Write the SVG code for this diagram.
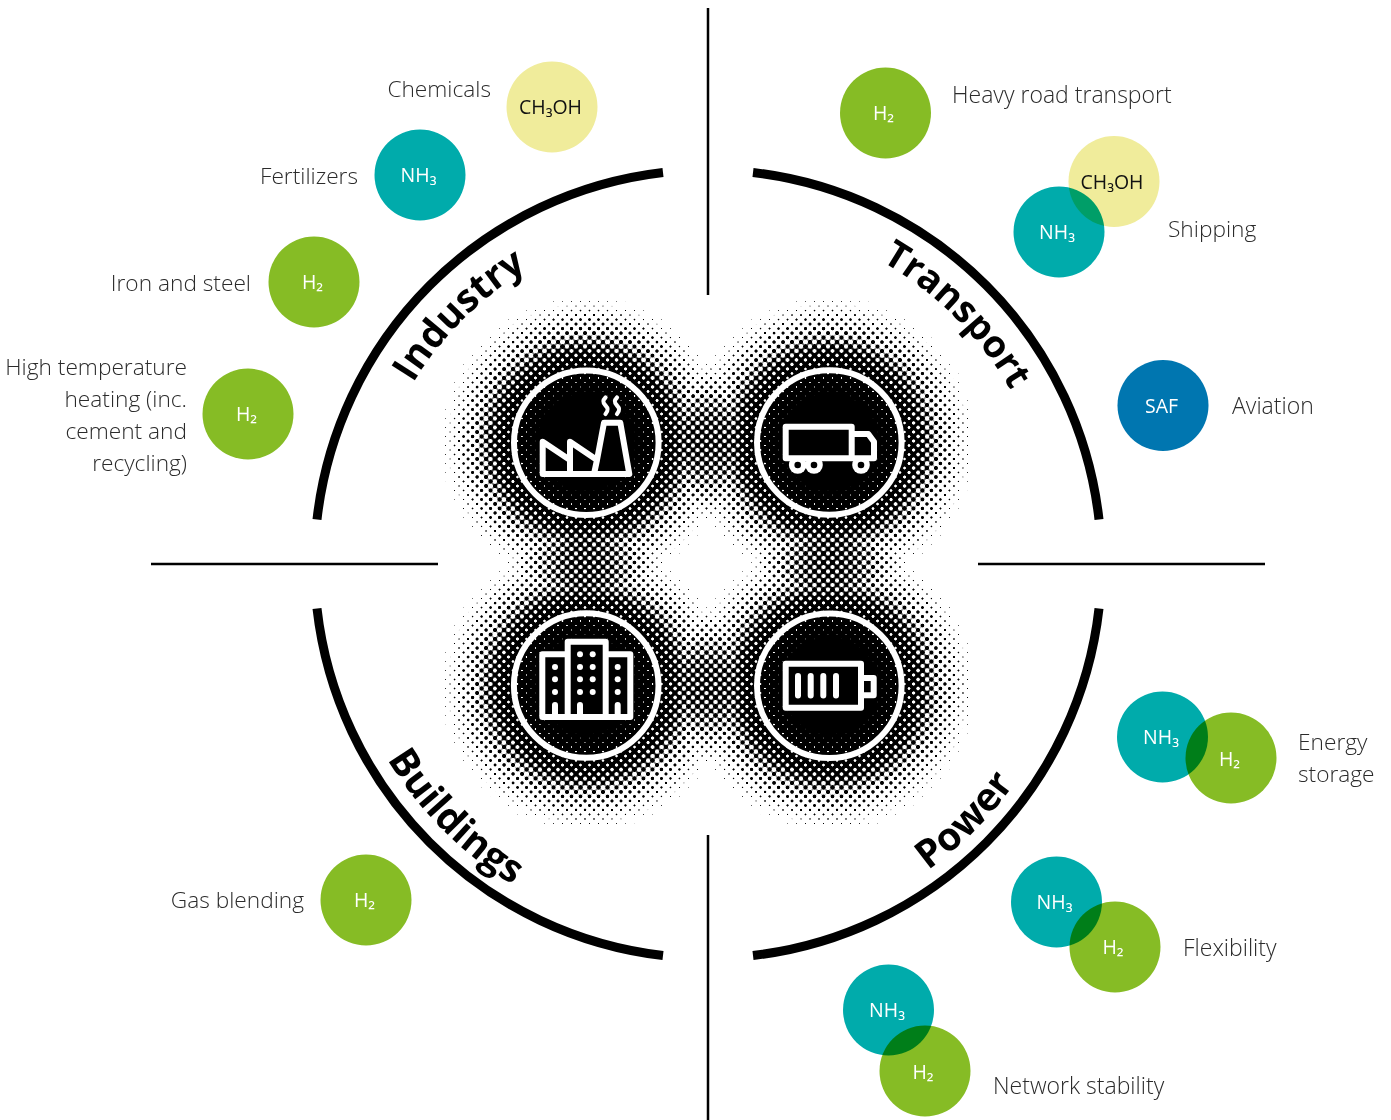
<svg xmlns="http://www.w3.org/2000/svg" width="1391" height="1120" viewBox="0 0 1391 1120">
<style>
text{font-family:"Open Sans","Liberation Sans",sans-serif}
.t{font-size:22.7px;font-weight:300;fill:#2b2b2b}
.l{font-size:23px}
.e{text-anchor:end}
.c{font-size:19.5px;font-weight:400;text-anchor:middle;fill:#fff}
.k{fill:#111}
.h{font-size:39px;font-weight:700;fill:#000;text-anchor:middle}
.g{fill:#86bc25}.n{fill:#00abab;mix-blend-mode:multiply}.y{fill:#f0ec9b}.b{fill:#0076b0}
.ring{fill:none;stroke:#fff;stroke-width:6}
.ic{fill:none;stroke:#fff;stroke-width:6;stroke-linejoin:round;stroke-linecap:round}
.w{fill:#fff}
.arc{fill:none;stroke:#000;stroke-width:9}
.ln{stroke:#000;stroke-width:2.5;fill:none}
</style>
<defs>
<radialGradient id="cell">
<stop offset="0" stop-color="#000" stop-opacity=".9"/><stop offset="1" stop-color="#000" stop-opacity="0"/>
</radialGradient>
<pattern id="dots" width="9" height="9" patternUnits="userSpaceOnUse">
<rect width="9" height="9" fill="#fff"/>
<circle cx="4.500" cy="4.500" r="4.500" fill="url(#cell)"/>
<circle cx="0" cy="0" r="4.500" fill="url(#cell)"/>
<circle cx="9" cy="0" r="4.500" fill="url(#cell)"/>
<circle cx="0" cy="9" r="4.500" fill="url(#cell)"/>
<circle cx="9" cy="9" r="4.500" fill="url(#cell)"/>
</pattern>
<radialGradient id="blob">
<stop offset="0" stop-color="#000" stop-opacity="1"/>
<stop offset=".27" stop-color="#000" stop-opacity="1"/>
<stop offset=".34" stop-color="#000" stop-opacity=".94"/>
<stop offset=".41" stop-color="#000" stop-opacity=".86"/>
<stop offset=".5" stop-color="#000" stop-opacity=".74"/>
<stop offset=".67" stop-color="#000" stop-opacity=".56"/>
<stop offset=".83" stop-color="#000" stop-opacity=".37"/>
<stop offset=".93" stop-color="#000" stop-opacity=".21"/>
<stop offset="1" stop-color="#000" stop-opacity=".06"/>
</radialGradient>
<filter id="thresh" filterUnits="userSpaceOnUse" x="436" y="290" width="546" height="550" color-interpolation-filters="sRGB">
<feComponentTransfer>
<feFuncR type="linear" slope="14" intercept="-6.6"/>
<feFuncG type="linear" slope="14" intercept="-6.6"/>
<feFuncB type="linear" slope="14" intercept="-6.6"/>
</feComponentTransfer>
</filter>
<path id="pI" d="M362 564A346 346 0 0 1 708 218"/>
<path id="pT" d="M708 215A349 349 0 0 1 1057 564"/>
<path id="pB" d="M332.500 564A375.500 375.500 0 0 0 708 939.500"/>
<path id="pP" d="M708 941A377 377 0 0 0 1085 564"/>
</defs>
<rect width="1391" height="1120" fill="#fff"/>
<g id="halftone" filter="url(#thresh)">
<rect x="436" y="290" width="546" height="550" fill="url(#dots)"/>
<g opacity=".5">
<rect x="436" y="290" width="546" height="550" fill="#fff"/>
<circle cx="586" cy="442" r="146" fill="url(#blob)"/>
<circle cx="830" cy="442" r="146" fill="url(#blob)"/>
<circle cx="586" cy="686" r="146" fill="url(#blob)"/>
<circle cx="830" cy="686" r="146" fill="url(#blob)"/>
</g>
</g>
<g id="connectors">
<path class="ln" d="M708 8V295M708 835V1120M151 564H438M978 564H1265"/>
<path class="arc" d="M317 519.5A394 394 0 0 1 663 172.5"/>
<path class="arc" d="M753 172.5A394 394 0 0 1 1099 519.5"/>
<path class="arc" d="M317 608.5A394 394 0 0 0 663 955.5"/>
<path class="arc" d="M753 955.5A394 394 0 0 0 1099 608.5"/>
</g>
<g id="sector-labels">
<text class="h" style="font-size:38.5px"><textPath href="#pI" startOffset="50%">Industry</textPath></text>
<text class="h" style="font-size:37.5px"><textPath href="#pT" startOffset="50%">Transport</textPath></text>
<text class="h"><textPath href="#pB" startOffset="50%">Buildings</textPath></text>
<text class="h"><textPath href="#pP" startOffset="50%">Power</textPath></text>
</g>
<g id="icon-industry">
<circle class="ring" cx="586.3" cy="442.7" r="72.300"/>
<path class="ic" d="M542.7 474V441.7L570 460V441.7L597 460L604 422.7H620.3L629.3 474ZM570 460V474M597 460L594 474"/>
<path class="ic" style="stroke-width:4.200" d="M605.5 397.5c-3 3-3 5 0 8s3 5 0 8.500M617 397.500c-3 3-3 5 0 8s3 5 0 8.500"/>
</g>
<g id="icon-transport">
<circle class="ring" cx="829.3" cy="442.500" r="72.300"/>
<path class="ic" d="M785.700 426.700H851.700V458.300H785.700ZM851.700 434H868.300L874 441.700V458.300H851.700"/>
<g class="w"><circle cx="797.700" cy="465" r="8.800"/><circle cx="814" cy="465" r="8.800"/><circle cx="861" cy="465" r="8.800"/></g>
<circle cx="797.700" cy="465" r="3.300"/><circle cx="814" cy="465" r="3.300"/><circle cx="861" cy="465" r="3.300"/>
</g>
<g id="icon-buildings">
<circle class="ring" cx="586.200" cy="685.500" r="72.300"/>
<path class="ic" d="M542.300 717V654.300H567.700V641.700H605.700V654.300H630.300V717ZM567.700 654.300V717M605.700 654.300V717"/>
<g class="w">
<circle cx="580" cy="654.300" r="3"/><circle cx="592.700" cy="654.300" r="3"/>
<circle cx="580" cy="667" r="3"/><circle cx="592.700" cy="667" r="3"/><circle cx="555" cy="667" r="3"/><circle cx="617.700" cy="667" r="3"/>
<circle cx="580" cy="679.300" r="3"/><circle cx="592.700" cy="679.300" r="3"/><circle cx="555" cy="679.300" r="3"/><circle cx="617.700" cy="679.300" r="3"/>
<circle cx="580" cy="692" r="3"/><circle cx="592.700" cy="692" r="3"/><circle cx="555" cy="692" r="3"/><circle cx="617.700" cy="692" r="3"/>
</g>
<path class="ic" d="M555 705V717M580 705V717M617.700 705V717"/>
</g>
<g id="icon-power">
<circle class="ring" cx="829.300" cy="685.800" r="72.300"/>
<path class="ic" d="M785.700 663.700H861V707.700H785.700ZM861 678H873.700V695.300H861M798 676V695.500M810.700 676V695.500M823.300 676V695.500M836 676V695.500"/>
</g>
<g id="chemicals"><circle class="y" cx="552" cy="107" r="45.500"/><text class="c k" x="550.500" y="114">CH₃OH</text><text class="t e" x="491" y="97">Chemicals</text></g>
<g id="fertilizers"><circle class="n" cx="420" cy="175" r="45.500"/><text class="c" x="418.500" y="182">NH₃</text><text class="t e" x="358" y="183.500">Fertilizers</text></g>
<g id="iron-steel"><circle class="g" cx="314" cy="282" r="45.500"/><text class="c" x="312.500" y="289">H₂</text><text class="t e" x="251" y="291">Iron and steel</text></g>
<g id="high-temp"><circle class="g" cx="248" cy="414" r="45.500"/><text class="c" x="246.500" y="421">H₂</text>
<text class="t e" x="187" y="375">High temperature</text><text class="t e" x="187" y="407">heating (inc.</text><text class="t e" x="187" y="439">cement and</text><text class="t e" x="187" y="471">recycling)</text></g>
<g id="heavy-road"><circle class="g" cx="885.500" cy="113" r="45.500"/><text class="c" x="883.500" y="120">H₂</text><text class="t l" x="952" y="103">Heavy road transport</text></g>
<g id="shipping"><circle class="y" cx="1114" cy="181.500" r="45.500"/><text class="c k" x="1112" y="189">CH₃OH</text><circle class="n" cx="1059" cy="232" r="45.500"/><text class="c" x="1057" y="239">NH₃</text><text class="t" x="1168" y="237">Shipping</text></g>
<g id="aviation"><circle class="b" cx="1163" cy="405.500" r="45.500"/><text class="c" x="1161.500" y="413">SAF</text><text class="t l" x="1232" y="414">Aviation</text></g>
<g id="energy-storage"><circle class="g" cx="1231" cy="758" r="45.500"/><circle class="n" cx="1162.500" cy="737" r="45.500"/><text class="c" x="1161" y="744">NH₃</text><text class="c" x="1229.500" y="766">H₂</text><text class="t" x="1298" y="750">Energy</text><text class="t" x="1298" y="782">storage</text></g>
<g id="flexibility"><circle class="g" cx="1115" cy="947" r="45.500"/><circle class="n" cx="1056.500" cy="902" r="45.500"/><text class="c" x="1054.500" y="909">NH₃</text><text class="c" x="1113" y="954">H₂</text><text class="t l" x="1183" y="956">Flexibility</text></g>
<g id="network-stability"><circle class="g" cx="925" cy="1071" r="45.500"/><circle class="n" cx="888.500" cy="1010" r="45.500"/><text class="c" x="887" y="1017">NH₃</text><text class="c" x="923" y="1079">H₂</text><text class="t l" x="993" y="1094">Network stability</text></g>
<g id="gas-blending"><circle class="g" cx="366" cy="900" r="45.500"/><text class="c" x="364.500" y="907">H₂</text><text class="t e" x="304" y="908">Gas blending</text></g>
</svg>
